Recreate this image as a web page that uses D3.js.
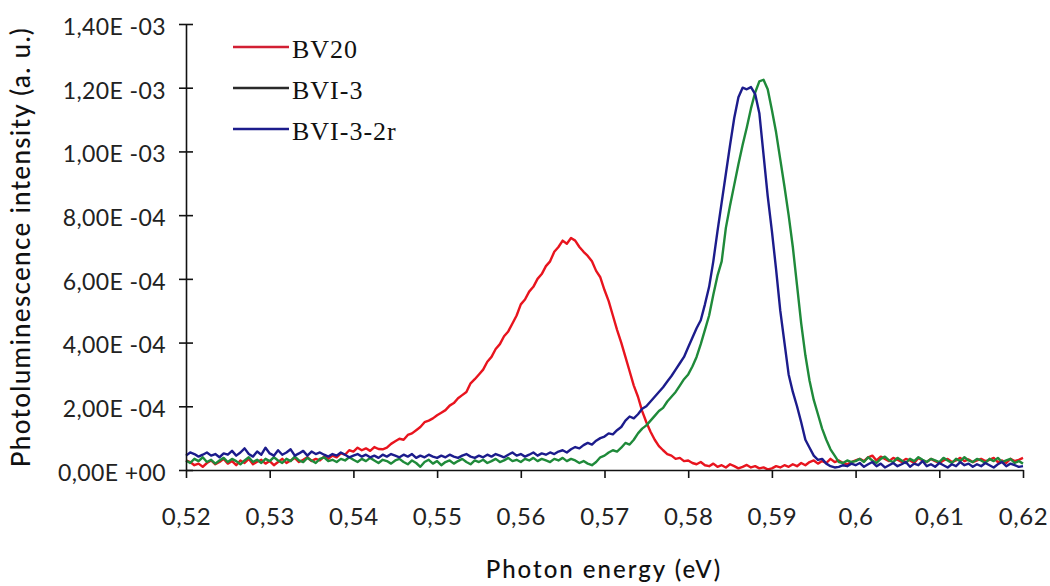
<!DOCTYPE html>
<html><head><meta charset="utf-8">
<script src="https://cdn.jsdelivr.net/npm/d3@7"></script>
<style>body{margin:0;background:#fff;} svg{display:block}</style>
</head><body><svg id="c" width="1050" height="586"></svg>
<script>
// Photon energy grid (eV): first sample and spacing
const xStart = 0.52, xStep = 0.0005;

const xTicks = [0.52,0.53,0.54,0.55,0.56,0.57,0.58,0.59,0.60,0.61,0.62];
const xTickLabels = ["0,52","0,53","0,54","0,55","0,56","0,57","0,58","0,59","0,6","0,61","0,62"];
const yTicks = [0,2e-4,4e-4,6e-4,8e-4,1e-3,1.2e-3,1.4e-3];
const yTickLabels = ["0,00E +00","2,00E -04","4,00E -04","6,00E -04","8,00E -04","1,00E -03","1,20E -03","1,40E -03"];

const seriesNames = ["BV20","BVI-3","BVI-3-2r"];
const lineColors = ["#e8141e","#1f8a3a","#1c1c8c"];
const legendColors = ["#d21f33","#2a2a2a","#1c1c8c"];

// intensities in units of 1e-4 a.u., one per grid step
const bv20 = [
0.30,0.25,0.15,0.20,0.10,0.22,0.30,0.18,0.25,0.35,
0.20,0.28,0.15,0.30,0.22,0.35,0.18,0.26,0.32,0.20,
0.28,0.15,0.25,0.35,0.22,0.30,0.38,0.25,0.32,0.40,
0.28,0.35,0.30,0.42,0.35,0.45,0.40,0.52,0.48,0.62,
0.58,0.70,0.62,0.68,0.60,0.72,0.66,0.65,0.70,0.82,
0.90,0.98,0.95,1.10,1.15,1.25,1.35,1.50,1.55,1.62,
1.72,1.80,1.88,2.02,2.10,2.25,2.35,2.45,2.72,2.85,
3.00,3.15,3.40,3.55,3.80,3.95,4.20,4.35,4.60,4.85,
5.20,5.35,5.60,5.75,6.00,6.15,6.40,6.55,6.85,7.00,
7.20,7.10,7.28,7.20,7.00,6.85,6.72,6.55,6.25,6.05,
5.65,5.30,4.85,4.40,4.00,3.55,3.10,2.65,2.30,1.85,
1.50,1.20,0.95,0.75,0.62,0.50,0.45,0.35,0.38,0.28,
0.30,0.22,0.18,0.25,0.15,0.12,0.20,0.10,0.15,0.08,
0.18,0.12,0.05,0.10,0.16,0.08,0.12,0.05,0.08,0.02,
0.05,0.12,0.08,0.15,0.10,0.18,0.12,0.22,0.15,0.25,
0.30,0.20,0.28,0.22,0.35,0.25,0.30,0.22,0.18,0.25,
0.30,0.35,0.28,0.40,0.45,0.30,0.42,0.35,0.28,0.38,
0.32,0.25,0.35,0.30,0.22,0.38,0.30,0.25,0.35,0.28,
0.22,0.30,0.35,0.25,0.30,0.38,0.28,0.33,0.25,0.30,
0.35,0.28,0.32,0.38,0.25,0.30,0.22,0.35,0.28,0.32,
0.38];

const bvi3 = [
0.30,0.22,0.35,0.28,0.40,0.25,0.32,0.20,0.30,0.38,
0.25,0.35,0.28,0.18,0.30,0.40,0.25,0.32,0.22,0.35,
0.28,0.40,0.30,0.22,0.35,0.28,0.42,0.30,0.25,0.38,
0.30,0.22,0.35,0.40,0.28,0.32,0.25,0.35,0.30,0.40,
0.32,0.25,0.35,0.28,0.38,0.30,0.22,0.32,0.28,0.20,
0.30,0.35,0.25,0.18,0.30,0.22,0.10,0.25,0.32,0.20,
0.28,0.15,0.25,0.30,0.20,0.28,0.35,0.25,0.18,0.30,
0.25,0.32,0.22,0.28,0.35,0.25,0.30,0.38,0.28,0.32,
0.25,0.35,0.30,0.38,0.28,0.35,0.30,0.25,0.35,0.30,
0.38,0.28,0.35,0.30,0.22,0.28,0.20,0.15,0.25,0.40,
0.45,0.55,0.62,0.58,0.70,0.85,0.80,0.95,1.15,1.30,
1.40,1.55,1.70,1.85,1.95,2.15,2.30,2.45,2.65,2.85,
3.00,3.25,3.55,3.95,4.40,4.85,5.50,6.10,6.55,7.60,
8.30,8.95,9.60,10.20,10.75,11.35,11.85,12.20,12.25,11.95,
11.30,10.60,9.75,8.90,8.00,7.00,5.80,4.60,3.60,2.80,
2.20,1.75,1.30,0.95,0.65,0.45,0.25,0.22,0.30,0.25,
0.28,0.35,0.25,0.40,0.30,0.22,0.35,0.42,0.30,0.25,
0.38,0.30,0.22,0.35,0.28,0.40,0.32,0.25,0.35,0.30,
0.25,0.38,0.30,0.22,0.35,0.28,0.40,0.30,0.25,0.35,
0.30,0.22,0.35,0.28,0.38,0.25,0.30,0.35,0.22,0.28,
0.20];

const bvi32r = [
0.45,0.55,0.50,0.42,0.48,0.55,0.45,0.50,0.40,0.52,
0.48,0.60,0.45,0.55,0.68,0.50,0.42,0.58,0.48,0.70,
0.52,0.45,0.62,0.48,0.55,0.65,0.45,0.52,0.60,0.45,
0.58,0.50,0.55,0.48,0.42,0.50,0.45,0.55,0.48,0.40,
0.45,0.50,0.42,0.48,0.40,0.45,0.38,0.48,0.42,0.50,
0.45,0.40,0.48,0.42,0.50,0.38,0.45,0.40,0.48,0.42,
0.38,0.45,0.40,0.48,0.42,0.38,0.45,0.50,0.42,0.38,
0.45,0.40,0.48,0.42,0.50,0.45,0.40,0.48,0.55,0.45,
0.50,0.42,0.48,0.55,0.45,0.52,0.48,0.55,0.50,0.58,
0.62,0.55,0.65,0.72,0.68,0.78,0.85,0.80,0.92,1.00,
1.05,1.15,1.12,1.25,1.35,1.55,1.68,1.62,1.75,1.92,
2.00,2.15,2.30,2.45,2.60,2.78,2.95,3.15,3.35,3.55,
3.85,4.15,4.45,4.70,5.20,5.75,6.55,7.50,8.40,9.30,
10.20,11.05,11.70,12.00,11.95,12.02,11.80,11.20,9.90,8.60,
7.50,6.30,5.00,4.00,3.00,2.45,2.00,1.50,0.95,0.70,
0.45,0.32,0.35,0.20,0.12,0.08,0.10,0.15,0.12,0.20,
0.15,0.22,0.10,0.18,0.25,0.12,0.20,0.08,0.15,0.22,
0.12,0.18,0.25,0.10,0.20,0.15,0.28,0.12,0.18,0.10,
0.22,0.15,0.08,0.18,0.12,0.25,0.15,0.20,0.10,0.18,
0.12,0.22,0.15,0.08,0.18,0.25,0.12,0.20,0.15,0.10,
0.12];

const seriesValues = [bv20, bvi3, bvi32r];

const svg = d3.select("#c");
const x = d3.scaleLinear().domain([0.52,0.62]).range([186,1023]);
const y = d3.scaleLinear().domain([0,1.4e-3]).range([470,24]);

const line = d3.line()
  .x((d,i)=>x(xStart + i*xStep))
  .y(d=>y(d*1e-4));

const plot = svg.append("g");
seriesValues.forEach((vals,k)=>{
  plot.append("path").datum(vals)
    .attr("fill","none")
    .attr("stroke",lineColors[k])
    .attr("stroke-width",2.4)
    .attr("stroke-linejoin","round")
    .attr("d",line);
});

const tickFont = "Lato, 'Open Sans', sans-serif";

// X axis
const xAxis = svg.append("g").attr("transform","translate(0,470)")
  .call(d3.axisBottom(x).tickValues(xTicks).tickFormat((d,i)=>xTickLabels[i])
    .tickSizeInner(8).tickSizeOuter(0).tickPadding(30));
xAxis.select(".domain").attr("stroke","#111").attr("stroke-width",1.6);
xAxis.selectAll(".tick line").attr("stroke","#111").attr("stroke-width",1.6);
xAxis.selectAll(".tick text").attr("font-family",tickFont).attr("font-size",24)
  .attr("letter-spacing",0.6).attr("fill","#222");

// Y axis
const yAxis = svg.append("g").attr("transform","translate(186,0)")
  .call(d3.axisLeft(y).tickValues(yTicks).tickFormat((d,i)=>yTickLabels[i])
    .tickSizeInner(7).tickSizeOuter(0).tickPadding(13));
yAxis.select(".domain").attr("stroke","#111").attr("stroke-width",1.6);
yAxis.selectAll(".tick line").attr("stroke","#111").attr("stroke-width",1.6);
yAxis.selectAll(".tick").append("line").attr("x1",0).attr("x2",7)
  .attr("stroke","#111").attr("stroke-width",1.6);
yAxis.selectAll(".tick text").attr("font-family",tickFont).attr("font-size",23)
  .attr("letter-spacing",0.4).attr("fill","#222").attr("dy","0.45em");

// Axis titles
svg.append("text").attr("x",604).attr("y",578).attr("text-anchor","middle")
  .attr("font-family",tickFont).attr("font-size",24).attr("font-weight",500)
  .attr("letter-spacing",2).attr("fill","#111").text("Photon energy (eV)");
svg.append("text").attr("transform","translate(30,247) rotate(-90)")
  .attr("text-anchor","middle")
  .attr("font-family",tickFont).attr("font-size",26).attr("font-weight",500)
  .attr("letter-spacing",1.3).attr("fill","#111").text("Photoluminescence intensity (a. u.)");

// Legend
const legend = svg.append("g");
seriesNames.forEach((name,k)=>{
  const ly = 47 + k*41;
  legend.append("line").attr("x1",233).attr("x2",289).attr("y1",ly).attr("y2",ly)
    .attr("stroke",legendColors[k]).attr("stroke-width",2.4);
  legend.append("text").attr("x",292).attr("y",ly+11)
    .attr("font-family","'Liberation Serif', 'Times New Roman', serif")
    .attr("font-size",26).attr("letter-spacing",1).attr("fill","#111").text(name);
});
</script>
</body></html>
